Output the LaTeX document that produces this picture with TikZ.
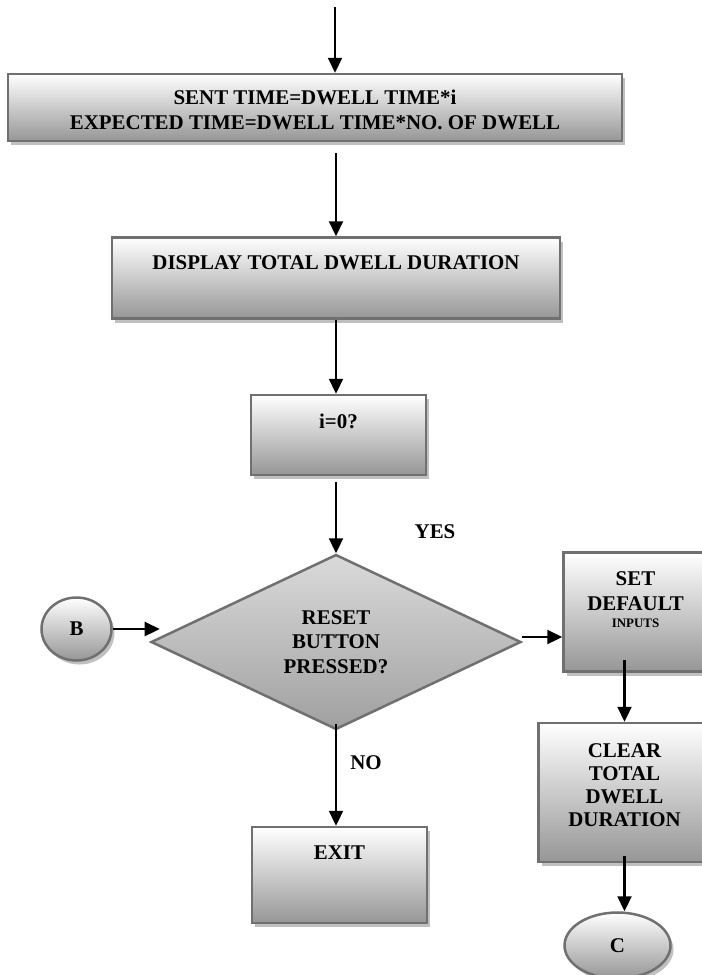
\documentclass[tikz,border=0pt]{standalone}
\usepackage{fontspec}
\setmainfont{Liberation Serif}
\usetikzlibrary{arrows.meta,positioning,shapes.geometric,shadows}
\definecolor{fcBorder}{RGB}{112,112,112}
\definecolor{fcShade} {RGB}{150,150,150}
\definecolor{fcShadow}{RGB}{192,192,192}
\definecolor{fcDiaTop}{RGB}{218,218,218}
\definecolor{fcDiaBot}{RGB}{160,160,160}

\begin{document}
\begin{tikzpicture}[
    x=1bp, y=-1bp,
    every node/.style={font=\fontsize{21}{24.5}\selectfont\bfseries},
    procbox/.style={rectangle,draw=fcBorder,line width=2.5bp,inner sep=0pt,
                    align=center,top color=white,bottom color=fcShade,
                    drop shadow={shadow xshift=3bp,shadow yshift=-4bp,
                                 fill=fcShadow,opacity=1}},
    termbox/.style={procbox,ellipse},
    decbox/.style={diamond,aspect=2.1,draw=fcBorder,line width=2.5bp,
                   inner sep=0pt,align=center,
                   top color=fcDiaTop,bottom color=fcDiaBot},
    lbl/.style={inner sep=0pt},
    arr/.style={-{Triangle[length=15bp,width=14bp]},line width=2.2bp,black}
  ]
  \useasboundingbox (0,0) rectangle (702,975);
  % Main column
  \node[procbox,minimum width=614bp,text height=55bp,text depth=12bp]
        (calc) at (315,107.5)
        {SENT TIME=DWELL TIME*i\\EXPECTED TIME=DWELL TIME*NO. OF DWELL};
  \node[procbox,minimum width=448bp,text height=32bp,text depth=49bp,
        below=94bp of calc,xshift=21bp] (disp) {DISPLAY TOTAL DWELL DURATION};
  \node[procbox,minimum width=175bp,text height=33bp,text depth=47bp,
        below=74bp of disp,xshift=2.5bp] (izero) {i=0?};
  \node[decbox,minimum width=370bp,minimum height=175bp,
        below=77bp of izero,xshift=-2.5bp] (reset) {RESET\\BUTTON\\PRESSED?};
  \node[procbox,minimum width=175bp,text height=32bp,text depth=64bp,
        below=95bp of reset,xshift=3.5bp] (exitb) {EXIT};
  % Side nodes
  \node[termbox,minimum width=70bp,minimum height=63bp,
        left=37bp of reset,yshift=13bp] (conB) {B};
  \node[procbox,minimum width=144bp,text height=75bp,text depth=44bp,
        right=40bp of reset,yshift=30bp] (setdef)
        {SET\\DEFAULT\\[-7bp]{\fontsize{13}{15}\selectfont INPUTS}};
  \node[procbox,minimum width=172bp,text height=103bp,text depth=36bp,
        font=\fontsize{21}{23}\selectfont\bfseries,
        below=49bp of setdef,xshift=-11bp] (clear) {CLEAR\\TOTAL\\DWELL\\DURATION};
  \node[termbox,minimum width=106bp,minimum height=66bp,
        below=48bp of clear,xshift=-7bp] (conC) {C};
  % Branch labels
  \node[lbl] (yes) at (435,532) {YES};
  \node[lbl] (no) at (366,763) {NO};
  \coordinate (entry) at (335,7);
  % Arrows
  \draw[arr] (entry) -- (entry |- calc.north);
  \draw[arr,shorten <=11bp] (disp.north |- calc.south) -- (disp.north);
  \draw[arr] (disp.south) -- (disp.south |- izero.north);
  \draw[arr,shorten <=6bp] (reset.north |- izero.south) -- (reset.north);
  \draw[arr,shorten <=-7bp] (reset.south) -- (reset.south |- exitb.north);
  \draw[arr] (conB.east) -- ([xshift=10bp]reset.west |- conB.east);
  \draw[arr] ([yshift=5bp]reset.east) -- ([yshift=5bp]reset.east -| setdef.west);
  \draw[arr,shorten <=-13bp] (clear.north |- setdef.south) -- (clear.north);
  \draw[arr,shorten <=-7bp] (clear.south) -- (clear.south |- conC.north);
\end{tikzpicture}
\end{document}
